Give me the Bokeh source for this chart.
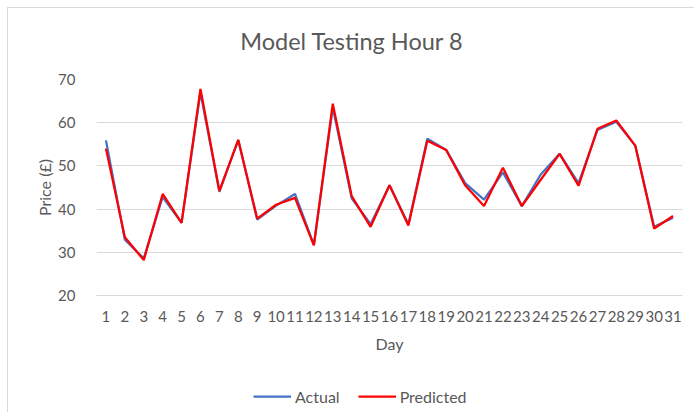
from bokeh.plotting import figure
from bokeh.layouts import column
from bokeh.models import Range1d, FixedTicker, Legend, LegendItem, Label
from bokeh.embed import file_html
from bokeh.resources import INLINE

days = list(range(1, 32))
actual = [55.9, 32.9, 28.6, 42.8, 36.8, 67.0, 44.0, 56.0, 37.6, 40.8,
          43.5, 31.7, 63.5, 42.5, 36.5, 45.5, 36.5, 56.3, 53.7, 46.0,
          42.2, 48.5, 40.7, 48.0, 52.8, 46.0, 58.3, 60.2, 54.7, 35.9, 38.0]
predicted = [54.0, 33.5, 28.2, 43.5, 36.8, 67.8, 44.2, 56.0, 37.8, 41.0,
             42.6, 31.6, 64.4, 43.0, 35.9, 45.5, 36.2, 55.8, 53.7, 45.5,
             40.7, 49.6, 40.7, 46.8, 52.8, 45.4, 58.6, 60.5, 54.7, 35.5, 38.4]
y_ticks = [20, 30, 40, 50, 60, 70]
title_text = "Model Testing Hour 8"
series_names = ["Actual", "Predicted"]
series_colors = ["#4472C4", "#FF0000"]

FONT = "Lato"
GRAY = "#595959"
W = 686


def blank(height):
    f = figure(width=W, height=height, output_backend="svg", toolbar_location=None,
               x_range=Range1d(100, 101), y_range=Range1d(100, 101),
               x_axis_location=None, y_axis_location=None, min_border=0)
    f.grid.grid_line_color = None
    f.outline_line_color = None
    return f


# title strip
tf = blank(61)
tf.add_layout(Label(x=255.5, y=29, x_units="screen", y_units="screen",
                    text=title_text, text_align="center", text_baseline="middle",
                    text_font=FONT, text_font_size="23.5px", text_color=GRAY))

# main chart
p = figure(frame_width=586, frame_height=216, output_backend="svg", toolbar_location=None,
           x_range=Range1d(0.5, 31.5), y_range=Range1d(20, 70),
           min_border_left=88, min_border_right=12, min_border_top=10,
           min_border_bottom=73)
p.outline_line_color = None
p.xgrid.grid_line_color = None
p.ygrid.grid_line_color = "#d9d9d9"
p.ygrid.grid_line_width = 1

p.xaxis.ticker = FixedTicker(ticks=days)
p.yaxis.ticker = FixedTicker(ticks=y_ticks)
for ax in (p.xaxis, p.yaxis):
    ax.major_tick_line_color = None
    ax.minor_tick_line_color = None
    ax.major_label_text_font = FONT
    ax.major_label_text_font_size = "15px"
    ax.major_label_text_color = GRAY
    ax.axis_label_text_font = FONT
    ax.axis_label_text_font_size = "16px"
    ax.axis_label_text_font_style = "normal"
    ax.axis_label_text_color = GRAY
p.yaxis.axis_line_color = None
p.xaxis.axis_line_color = "#d9d9d9"
p.xaxis.axis_label = "Day"
p.yaxis.axis_label = "Price (£)"
p.xaxis.major_label_standoff = 9
p.yaxis.major_label_standoff = 15
p.xaxis.axis_label_standoff = 9
p.yaxis.axis_label_standoff = 1

p.line(days, actual, line_color=series_colors[0], line_width=2.25)
p.line(days, predicted, line_color=series_colors[1], line_width=2.25)

# legend strip (its renderers use the same series but fall outside its range)
lf = blank(44)
items = []
for name, color, vals in zip(series_names, series_colors, [actual, predicted]):
    r = lf.line(days, vals, line_color=color, line_width=2.25)
    items.append(LegendItem(label=name, renderers=[r]))
lf.add_layout(Legend(items=items, orientation="horizontal", location=(157, 6),
                     label_text_font=FONT, label_text_font_size="16px",
                     label_text_color=GRAY, glyph_width=38, glyph_height=20,
                     label_standoff=4, spacing=18,
                     border_line_color=None, background_fill_alpha=0,
                     margin=0, padding=0))

layout = column(tf, p, lf, spacing=0)
layout.styles = {"margin-left": "7px", "margin-top": "7px",
                 "border-left": "1px solid #d9d9d9", "border-top": "1px solid #d9d9d9"}

open("out.html", "w").write(file_html(layout, INLINE))
